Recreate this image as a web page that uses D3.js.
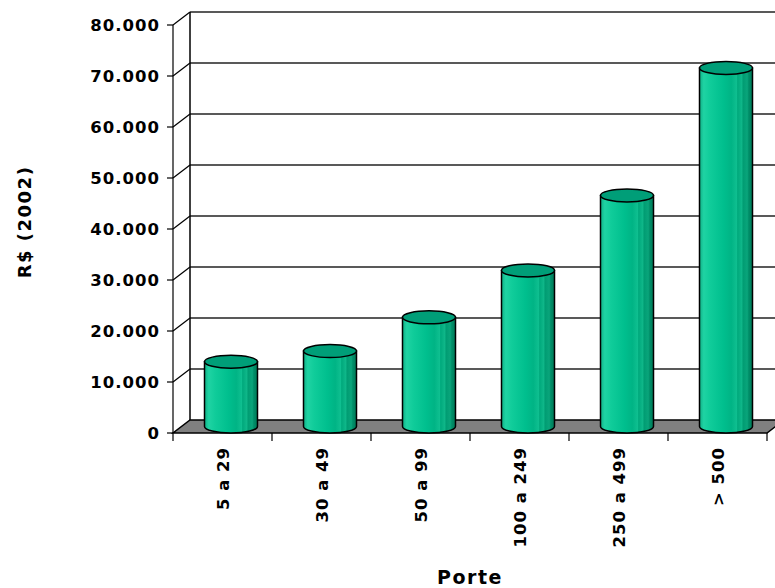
<!DOCTYPE html>
<html lang="pt">
  <head>
    <meta charset="utf-8" />
    <title>Porte x R$ (2002)</title>
    <script src="https://cdn.jsdelivr.net/npm/d3@7"></script>
    <style>
      body { margin: 0; background: #fff; }
      text { font-family: "DejaVu Sans", Verdana, sans-serif; font-weight: bold; fill: #000; }
    </style>
  </head>
  <body>
    <div id="root"></div>
    <script type="text/javascript">
      // data
      const categories = ["5 a 29", "30 a 49", "50 a 99", "100 a 249", "250 a 499", "> 500"];
      const values = [12700, 14800, 21400, 30600, 45300, 70300];
      const yTicks = [0, 10000, 20000, 30000, 40000, 50000, 60000, 70000, 80000];
      const yTickLabels = ["0", "10.000", "20.000", "30.000", "40.000", "50.000", "60.000", "70.000", "80.000"];

      const width = 775;
      const height = 588;
      const plotLeft = 173, plotRight = 767, plotBottom = 433, plotTop = 25;
      const dx = 17, dy = -13; // depth of the 3D box

      const x = d3.scaleBand().domain(categories).range([plotLeft, plotRight]);
      const y = d3.scaleLinear().domain([0, 80000]).range([plotBottom, plotTop]);

      const svg = d3.select("#root").append("svg")
        .attr("width", width)
        .attr("height", height);

      // cylinder shading
      const defs = svg.append("defs");
      const grad = defs.append("linearGradient").attr("id", "cyl")
        .attr("x1", "0%").attr("x2", "100%").attr("y1", "0%").attr("y2", "0%");
      [
        [0, "#0fb086"], [0.08, "#1fd3a3"], [0.2, "#10cc9a"], [0.45, "#00bf8e"],
        [0.6, "#00b485"], [0.7, "#0fbf90"], [0.72, "#00a97c"], [0.8, "#10b88a"],
        [0.82, "#009c72"], [0.9, "#0aa57b"], [0.93, "#008e68"], [1, "#007a58"]
      ].forEach(([o, c]) => grad.append("stop").attr("offset", o).attr("stop-color", c));

      // back wall gridlines
      const g = svg.append("g");
      g.selectAll(".grid").data(yTicks.slice(1)).join("line")
        .attr("x1", plotLeft + dx).attr("x2", width)
        .attr("y1", d => y(d) + dy).attr("y2", d => y(d) + dy)
        .attr("stroke", "#222").attr("stroke-width", 1.5);

      // left wall: diagonals from the front axis to the back
      g.selectAll(".diag").data(yTicks.slice(1)).join("line")
        .attr("x1", plotLeft).attr("x2", plotLeft + dx)
        .attr("y1", d => y(d)).attr("y2", d => y(d) + dy)
        .attr("stroke", "#000").attr("stroke-width", 1.2);

      // back vertical edge
      g.append("line")
        .attr("x1", plotLeft + dx).attr("x2", plotLeft + dx)
        .attr("y1", y(0) + dy).attr("y2", y(80000) + dy)
        .attr("stroke", "#000").attr("stroke-width", 1.5);

      // floor
      g.append("polygon")
        .attr("points", [
          [plotLeft, y(0)], [plotRight, y(0)], [plotRight + dx, y(0) + dy], [plotLeft + dx, y(0) + dy]
        ].map(p => p.join(",")).join(" "))
        .attr("fill", "#808080").attr("stroke", "#000").attr("stroke-width", 1.5);

      // front value axis
      g.append("line")
        .attr("x1", plotLeft).attr("x2", plotLeft)
        .attr("y1", y(0)).attr("y2", y(80000))
        .attr("stroke", "#000").attr("stroke-width", 1.2);
      g.selectAll(".ytick").data(yTicks).join("line")
        .attr("x1", plotLeft - 6).attr("x2", plotLeft)
        .attr("y1", d => y(d)).attr("y2", d => y(d))
        .attr("stroke", "#000").attr("stroke-width", 1.2);
      g.selectAll(".ylab").data(yTicks).join("text")
        .attr("x", plotLeft - 13)
        .attr("y", d => y(d))
        .attr("dy", "0.36em")
        .attr("text-anchor", "end")
        .attr("font-size", 16.5)
        .attr("letter-spacing", 1)
        .text((d, i) => yTickLabels[i]);

      // category ticks
      const bounds = categories.map(c => x(c)).concat([plotRight]);
      g.selectAll(".xtick").data(bounds).join("line")
        .attr("x1", d => d).attr("x2", d => d)
        .attr("y1", y(0)).attr("y2", y(0) + 8)
        .attr("stroke", "#000").attr("stroke-width", 1.2);

      // cylinders
      const rx = 26.5, ry = 6.5;
      const bars = g.selectAll(".bar").data(values).join("g");
      bars.append("path")
        .attr("d", (d, i) => {
          const cx = x(categories[i]) + x.bandwidth() / 2 + dx / 2;
          const yb = y(0) + dy / 2;
          const yt = y(d) + dy / 2;
          return `M${cx - rx},${yt} L${cx - rx},${yb} A${rx},${ry} 0 0 0 ${cx + rx},${yb} L${cx + rx},${yt} Z`;
        })
        .attr("fill", "url(#cyl)")
        .attr("stroke", "#000").attr("stroke-width", 1.5);
      bars.append("ellipse")
        .attr("cx", (d, i) => x(categories[i]) + x.bandwidth() / 2 + dx / 2)
        .attr("cy", d => y(d) + dy / 2)
        .attr("rx", rx).attr("ry", ry)
        .attr("fill", "#009e78")
        .attr("stroke", "#000").attr("stroke-width", 1.5);

      // category labels
      g.selectAll(".xlab").data(categories).join("text")
        .attr("transform", d => `translate(${x(d) + x.bandwidth() / 2 + 6},${y(0) + 14}) rotate(-90)`)
        .attr("text-anchor", "end")
        .attr("font-size", 16.5)
        .attr("letter-spacing", 1)
        .text(d => d);

      // axis titles
      svg.append("text")
        .attr("x", 470).attr("y", 584)
        .attr("text-anchor", "middle")
        .attr("font-size", 19)
        .attr("letter-spacing", 1.5)
        .text("Porte");
      svg.append("text")
        .attr("transform", "translate(31,222) rotate(-90)")
        .attr("text-anchor", "middle")
        .attr("font-size", 18)
        .attr("letter-spacing", 1.5)
        .text("R$ (2002)");
    </script>
  </body>
</html>
